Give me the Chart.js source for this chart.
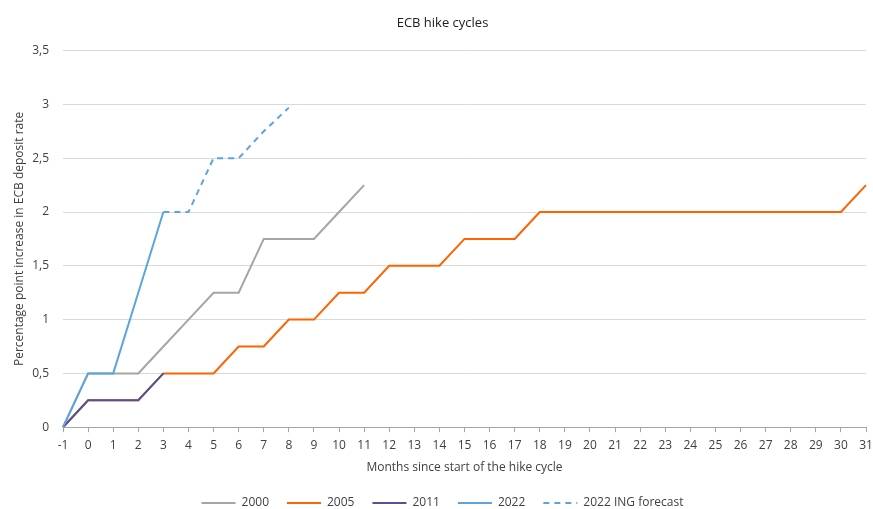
<!DOCTYPE html>
<html>
<head>
<meta charset="utf-8">
<script src="https://cdn.jsdelivr.net/npm/chart.js@4"></script>
<style>
  html, body { margin: 0; padding: 0; background: #fff; }
  #wrap { width: 873px; height: 509px; }
</style>
</head>
<body>
<div id="wrap"><canvas id="hikeChart"></canvas></div>
<script>
// months since start of hike cycle
const months = [-1,0,1,2,3,4,5,6,7,8,9,10,11,12,13,14,15,16,17,18,19,20,21,22,23,24,25,26,27,28,29,30,31];

const cycle2000 = [0,0.5,0.5,0.5,0.75,1,1.25,1.25,1.75,1.75,1.75,2,2.25];
const cycle2005 = [0,0.25,0.25,0.25,0.5,0.5,0.5,0.75,0.75,1,1,1.25,1.25,1.5,1.5,1.5,1.75,1.75,1.75,2,2,2,2,2,2,2,2,2,2,2,2,2,2.25];
const cycle2011 = [0,0.25,0.25,0.25,0.5];
const cycle2022 = [0,0.5,0.5,1.25,2];
const forecast2022 = [null,null,null,null,2,2,2.5,2.5,2.75,2.97];

const yTicks = [0,0.5,1,1.5,2,2.5,3,3.5];

const fontFamily = "'Open Sans', 'Noto Sans', sans-serif";
const textColor = '#404040';

function line(label, data, color, order, dash) {
  return {
    label,
    data,
    borderColor: color,
    backgroundColor: color,
    borderWidth: 2,
    borderDash: dash || [],
    pointRadius: 0,
    tension: 0,
    fill: false,
    order
  };
}

new Chart(document.getElementById('hikeChart').getContext('2d'), {
  type: 'line',
  data: {
    labels: months.map(String),
    datasets: [
      line('2000', cycle2000, '#A5A5A5', 4),
      line('2005', cycle2005, '#FF6200', 3),
      line('2011', cycle2011, '#525199', 2),
      line('2022', cycle2022, '#5BA4E0', 1),
      line('2022 ING forecast', forecast2022, '#5BA4E0', 0, [6, 5])
    ]
  },
  options: {
    responsive: true,
    maintainAspectRatio: false,
    animation: false,
    layout: { padding: { left: 12, right: 0, top: 4, bottom: -10 } },
    plugins: {
      title: {
        display: true,
        text: 'ECB hike cycles',
        color: '#202020',
        font: { family: fontFamily, size: 13, weight: 'normal' },
        padding: { top: 11, bottom: 20 }
      },
      legend: {
        position: 'bottom',
        labels: {
          usePointStyle: true,
          pointStyle: 'line',
          pointStyleWidth: 34,
          boxHeight: 12,
          padding: 18,
          color: textColor,
          font: { family: fontFamily, size: 12 },
          sort: (a, b) => a.datasetIndex - b.datasetIndex,
          generateLabels: chart => {
            const items = Chart.defaults.plugins.legend.labels.generateLabels(chart);
            items.forEach(it => {
              it.lineDash = chart.data.datasets[it.datasetIndex].borderDash;
            });
            return items;
          }
        }
      },
      tooltip: { enabled: false }
    },
    scales: {
      x: {
        type: 'category',
        offset: false,
        afterFit: axis => { axis.paddingRight = 7; },
        title: {
          display: true,
          text: 'Months since start of the hike cycle',
          color: textColor,
          font: { family: fontFamily, size: 12 },
          padding: { top: 2, bottom: 4 }
        },
        grid: { drawOnChartArea: false, drawTicks: true, tickLength: 5, color: '#A6A6A6' },
        border: { display: true, color: '#A6A6A6', width: 1 },
        ticks: {
          color: textColor,
          font: { family: fontFamily, size: 12 },
          maxRotation: 0,
          autoSkip: false,
          padding: 6
        }
      },
      y: {
        min: 0,
        max: 3.5,
        afterBuildTicks: axis => { axis.ticks = yTicks.map(v => ({ value: v })); },
        afterFit: axis => { axis.width = 51; },
        title: {
          display: true,
          text: 'Percentage point increase in ECB deposit rate',
          color: textColor,
          font: { family: fontFamily, size: 12 },
          padding: { top: 0, bottom: 0 }
        },
        grid: { color: '#D9D9D9', drawTicks: false },
        border: { display: false },
        ticks: {
          color: textColor,
          font: { family: fontFamily, size: 12 },
          padding: 14,
          callback: v => String(v).replace('.', ',')
        }
      }
    }
  }
});
</script>
</body>
</html>
